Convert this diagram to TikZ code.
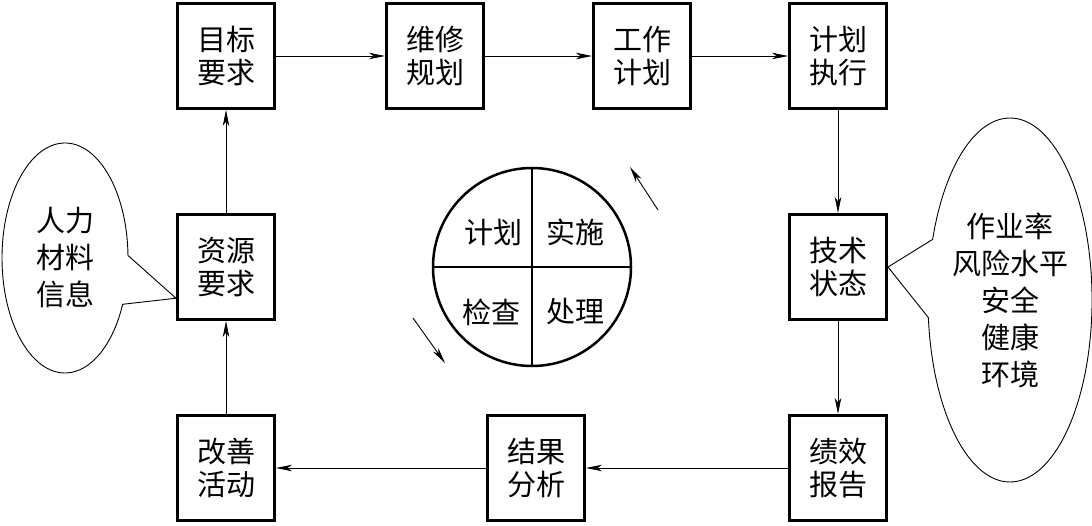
\documentclass[tikz,border=0pt]{standalone}
\usepackage{fontspec}
\newfontfamily\cjk{Noto Sans CJK SC}
\usetikzlibrary{shapes,arrows,arrows.meta,positioning,calc}

\begin{document}
\begin{tikzpicture}[
    x=1pt, y=-1pt,
    blk/.style={rectangle, draw, line width=3pt, minimum width=97pt, minimum height=105pt, align=center, font=\cjk\fontsize{29}{33}\selectfont},
    bubble/.style={ellipse callout, draw, line width=0.9pt, align=center, callout pointer arc=25, inner sep=0pt, font=\cjk\fontsize{29}{37}\selectfont},
    lbl/.style={font=\cjk\fontsize{29}{33}\selectfont},
    arrow/.style={->, >={Stealth[length=16pt,width=6.5pt,inset=4.5pt]}, line width=0.9pt}
]
\useasboundingbox (0,0) rectangle (1092,526);

% Top row
\node[blk] (goal) at (226,56) {目标\\要求};
\node[blk] (maint) at (435,56) {维修\\规划};
\node[blk] (work) at (642,56) {工作\\计划};
\node[blk] (exec) at (838,56) {计划\\执行};

% Middle row
\node[blk] (res) at (226,267) {资源\\要求};
\node[blk] (tech) at (838,267) {技术\\状态};

% Bottom row
\node[blk] (improve) at (226,468) {改善\\活动};
\node[blk] (result) at (536,468) {结果\\分析};
\node[blk] (perf) at (838,468) {绩效\\报告};

% Callouts
\node[bubble, minimum width=126pt, minimum height=230pt, callout absolute pointer=(res.-148)] (inputs) at (65,258) {人力\\材料\\信息};
\node[bubble, minimum width=156pt, minimum height=364pt, callout absolute pointer=(tech.east)] (kpi) at (1010,300) {作业率\\风险水平\\安全\\健康\\环境};

% PDCA circle
\node[circle, draw, line width=2.5pt, minimum size=198pt] (pdca) at (532,267) {};
\draw[line width=2.5pt] (pdca.north) -- (pdca.south);
\draw[line width=2.5pt] (pdca.west) -- (pdca.east);
\node[lbl] (plan) at (493,232) {计划};
\node[lbl] (do) at (575,232) {实施};
\node[lbl] (check) at (491,312) {检查};
\node[lbl] (act) at (575,312) {处理};

% Rotation marks
\coordinate (rotA) at (658,210);
\coordinate (rotB) at (630,167);
\coordinate (rotC) at (413,318);
\coordinate (rotD) at (445,363);
\draw[arrow] (rotA) -- (rotB);
\draw[arrow] (rotC) -- (rotD);

% Flow
\draw[arrow] (goal) -- (maint);
\draw[arrow] (maint) -- (work);
\draw[arrow] (work) -- (exec);
\draw[arrow] (exec) -- (tech);
\draw[arrow] (tech) -- (perf);
\draw[arrow] (perf) -- (result);
\draw[arrow] (result) -- (improve);
\draw[arrow] (improve) -- (res);
\draw[arrow] (res) -- (goal);

\end{tikzpicture}
\end{document}
